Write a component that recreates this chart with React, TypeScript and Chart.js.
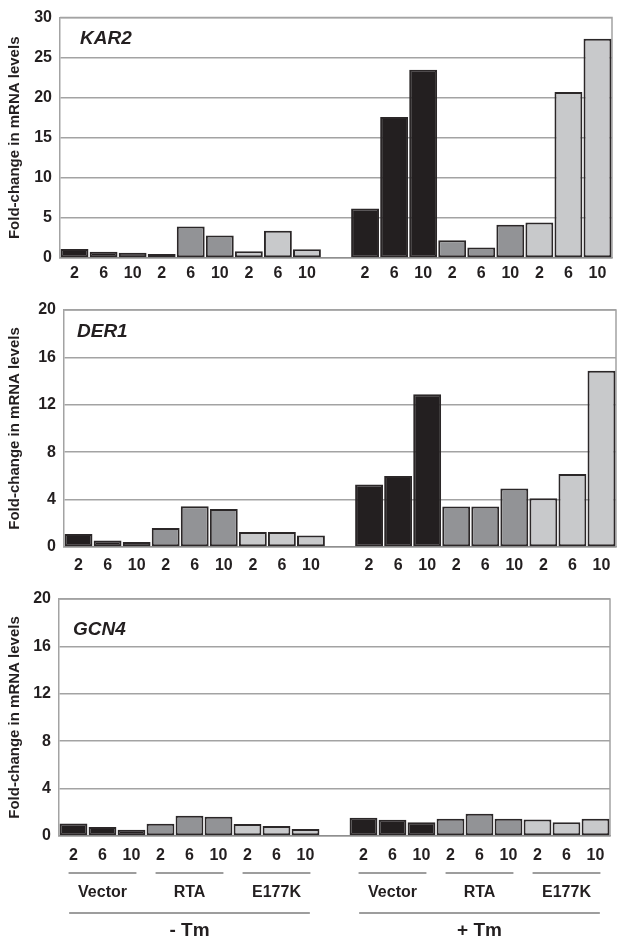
import React, { useEffect, useRef } from "react";
import { Chart, registerables } from "chart.js";

Chart.register(...registerables);

// ---------- data ----------
const timeLabels = ["2", "6", "10", "2", "6", "10", "2", "6", "10", "", "2", "6", "10", "2", "6", "10", "2", "6", "10"];
const groupNames = ["Vector", "RTA", "E177K"];
const treatmentNames = ["- Tm", "+ Tm"];
const geneNames = ["KAR2", "DER1", "GCN4"];
const yAxisTitle = "Fold-change in mRNA levels";

const kar2Values = [1.13, 0.77, 0.65, 0.49, 3.94, 2.8, 0.85, 3.41, 1.1, null, 6.18, 17.6, 23.5, 2.23, 1.3, 4.15, 4.43, 20.7, 27.35];
const der1Values = [1.1, 0.54, 0.42, 1.6, 3.44, 3.21, 1.27, 1.27, 0.96, null, 5.27, 6.0, 12.88, 3.41, 3.41, 4.93, 4.12, 6.17, 14.88];
const gcn4Values = [1.06, 0.76, 0.53, 1.04, 1.71, 1.63, 1.01, 0.84, 0.59, null, 1.54, 1.37, 1.15, 1.46, 1.88, 1.46, 1.4, 1.15, 1.46];

const kar2Ticks = { max: 30, step: 5 };
const der1Ticks = { max: 20, step: 4 };
const gcn4Ticks = { max: 20, step: 4 };

// ---------- styles ----------
const FONT = "Arial, 'Liberation Sans', Helvetica, sans-serif";
const INK = "#231f20";
const GROUP_FILLS = ["#231f20", "#929396", "#c8c9cb"];
const GRID = "#a3a3a3";

function barFill(i: number): string {
  if (i === 9) return "rgba(0,0,0,0)";
  const g = i < 9 ? Math.floor(i / 3) : Math.floor((i - 10) / 3);
  return GROUP_FILLS[g];
}

type PanelCfg = {
  gene: string;
  values: (number | null)[];
  max: number;
  step: number;
  top: number;
  height: number;
  padTop: number;
  padRight: number;
  yWidth: number;
  xHeight: number;
  tickPad: number;
  geneDx: number;
  geneDy: number;
  bottomLabels: boolean;
};

const panels: PanelCfg[] = [
  { gene: geneNames[0], values: kar2Values, max: kar2Ticks.max, step: kar2Ticks.step, top: 0, height: 290, padTop: 12, padRight: 12, yWidth: 60, xHeight: 32, tickPad: 6, geneDx: 20, geneDy: 26, bottomLabels: false },
  { gene: geneNames[1], values: der1Values, max: der1Ticks.max, step: der1Ticks.step, top: 290, height: 290, padTop: 20, padRight: 8, yWidth: 64, xHeight: 33, tickPad: 9, geneDx: 13, geneDy: 27, bottomLabels: false },
  { gene: geneNames[2], values: gcn4Values, max: gcn4Ticks.max, step: gcn4Ticks.step, top: 580, height: 364, padTop: 19, padRight: 14, yWidth: 59, xHeight: 108, tickPad: 10, geneDx: 14, geneDy: 36, bottomLabels: true },
];

function makePlugins(p: PanelCfg) {
  return [
    {
      id: "frame",
      beforeDatasetsDraw(chart: any) {
        const { left, right, top, bottom } = chart.chartArea;
        const ctx = chart.ctx;
        ctx.save();
        ctx.strokeStyle = GRID;
        ctx.lineWidth = 1.5;
        ctx.beginPath();
        ctx.moveTo(left, top);
        ctx.lineTo(right, top);
        ctx.lineTo(right, bottom);
        ctx.stroke();
        ctx.restore();
      },
    },
    {
      id: "labels",
      afterDraw(chart: any) {
        const ctx = chart.ctx;
        const { left, top, bottom } = chart.chartArea;
        ctx.save();
        ctx.fillStyle = INK;
        ctx.textBaseline = "alphabetic";
        ctx.textAlign = "left";
        ctx.font = `italic bold 19px ${FONT}`;
        ctx.fillText(p.gene, left + p.geneDx, top + p.geneDy);
        if (p.bottomLabels) {
          const x = chart.scales.x;
          const slot = x.getPixelForValue(1) - x.getPixelForValue(0);
          ctx.strokeStyle = "#9d9d9d";
          ctx.lineWidth = 2;
          ctx.textAlign = "center";
          treatmentNames.forEach((t, ti) => {
            const start = ti === 0 ? 0 : 10;
            groupNames.forEach((g, gi) => {
              const c = x.getPixelForValue(start + gi * 3 + 1);
              ctx.beginPath();
              ctx.moveTo(c - 1.17 * slot, bottom + 37);
              ctx.lineTo(c + 1.17 * slot, bottom + 37);
              ctx.stroke();
              ctx.font = `bold 16px ${FONT}`;
              ctx.fillText(g, c, bottom + 61);
            });
            const c = (x.getPixelForValue(start) + x.getPixelForValue(start + 8)) / 2;
            ctx.beginPath();
            ctx.moveTo(c - 4.15 * slot, bottom + 77);
            ctx.lineTo(c + 4.15 * slot, bottom + 77);
            ctx.stroke();
            ctx.font = `bold 19px ${FONT}`;
            ctx.fillText(t, c, bottom + 100);
          });
        }
        ctx.restore();
      },
    },
  ];
}

function Panel({ p }: { p: PanelCfg }) {
  const ref = useRef<HTMLCanvasElement | null>(null);
  useEffect(() => {
    if (!ref.current) return;
    const chart = new Chart(ref.current, {
      type: "bar",
      data: {
        labels: timeLabels,
        datasets: [
          {
            data: p.values as any,
            backgroundColor: timeLabels.map((_, i) => barFill(i)),
            borderColor: "#2b2728",
            borderWidth: 2,
            borderSkipped: false,
            barPercentage: 0.96,
            categoryPercentage: 1,
          },
        ],
      },
      options: {
        responsive: false,
        animation: false,
        layout: { padding: { left: 0, right: p.padRight, top: p.padTop, bottom: 0 } },
        plugins: { legend: { display: false }, tooltip: { enabled: false } },
        scales: {
          x: {
            grid: { display: false, drawTicks: false },
            border: { display: true, color: "#8f8f8f", width: 1.5 },
            ticks: {
              autoSkip: false,
              maxRotation: 0,
              minRotation: 0,
              padding: p.tickPad,
              color: INK,
              font: { family: FONT, size: 16, weight: "bold" },
            },
            afterFit(scale: any) {
              scale.height = p.xHeight;
            },
          },
          y: {
            min: 0,
            max: p.max,
            grid: { color: GRID, lineWidth: 1.5, drawTicks: false },
            border: { display: true, color: GRID, width: 1.5 },
            ticks: {
              stepSize: p.step,
              padding: 8,
              color: INK,
              font: { family: FONT, size: 16, weight: "bold" },
            },
            title: {
              display: true,
              text: yAxisTitle,
              color: INK,
              padding: { top: 6, bottom: 0 },
              font: { family: FONT, size: 15, weight: "bold" },
            },
            afterFit(scale: any) {
              scale.width = p.yWidth;
            },
          },
        },
      },
      plugins: makePlugins(p) as any,
    });
    return () => chart.destroy();
  }, [p]);
  return (
    <div style={{ position: "absolute", left: 0, top: p.top, width: 624, height: p.height }}>
      <canvas ref={ref} width={624} height={p.height} style={{ display: "block" }} />
    </div>
  );
}

export default function App() {
  return (
    <div style={{ position: "absolute", left: 0, top: 0, width: 624, height: 944, background: "#ffffff" }}>
      {panels.map((p) => (
        <Panel key={p.gene} p={p} />
      ))}
    </div>
  );
}
